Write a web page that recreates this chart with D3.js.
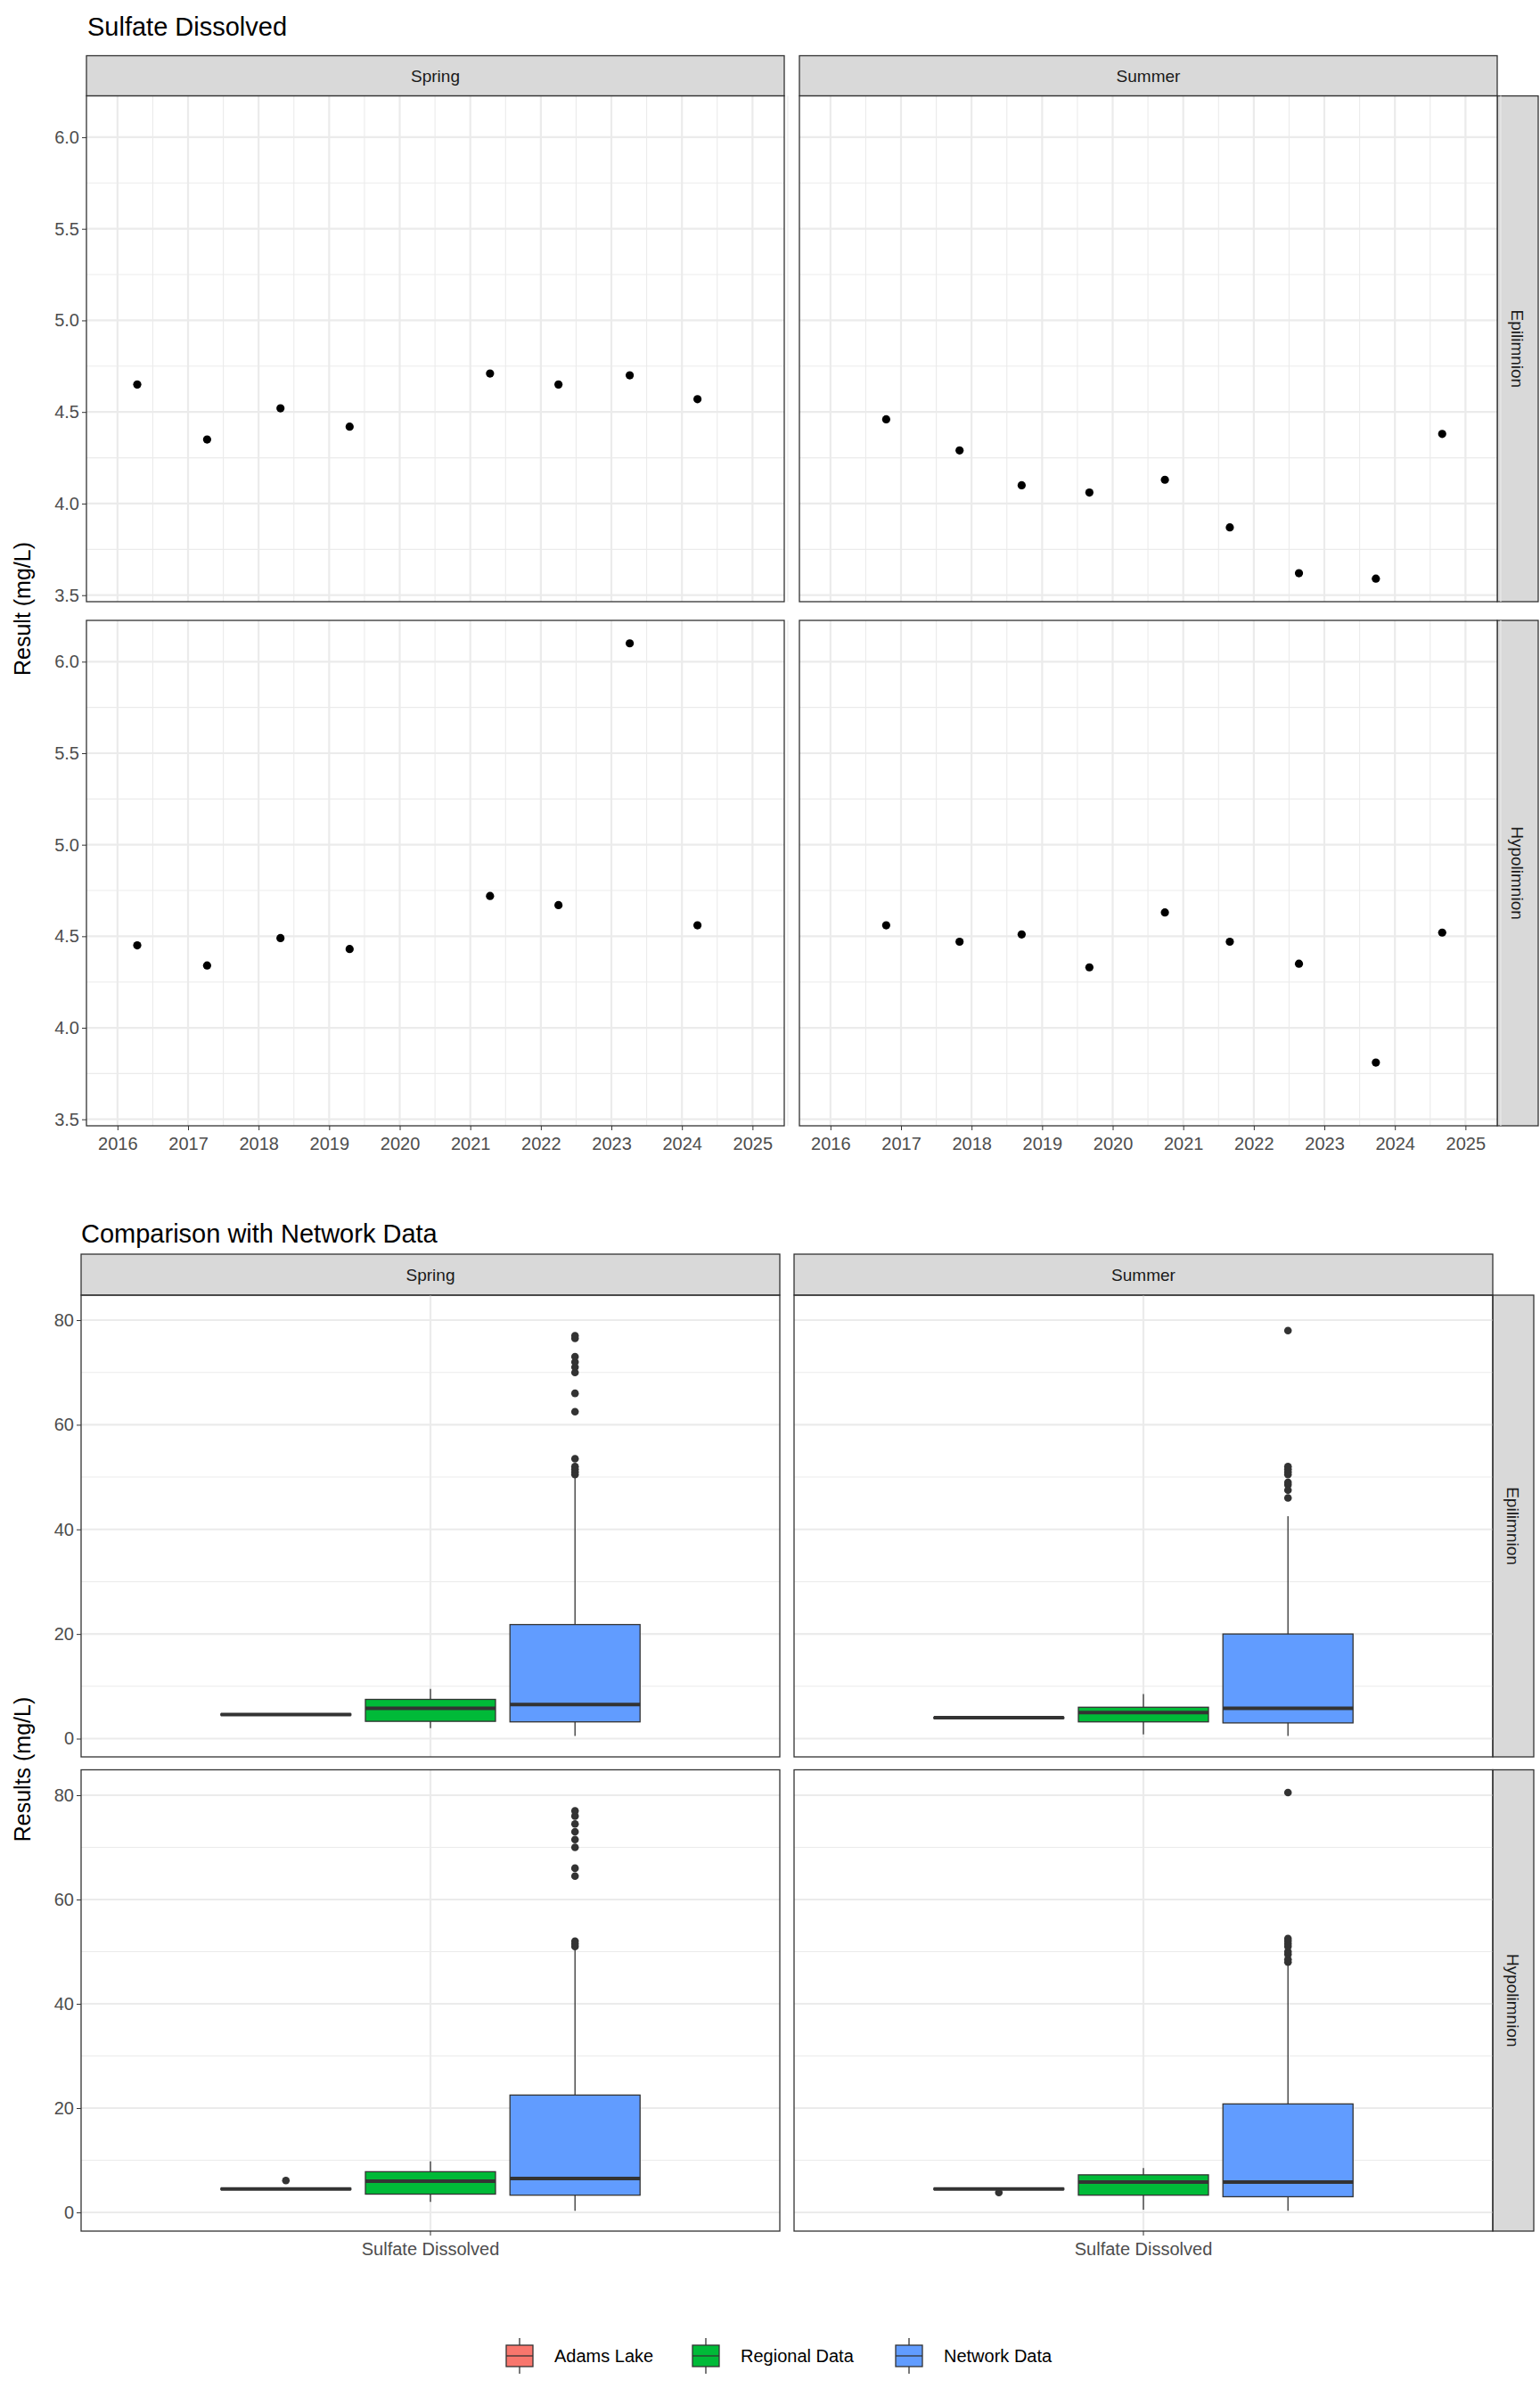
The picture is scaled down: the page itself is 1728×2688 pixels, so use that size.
<!DOCTYPE html><html><head><meta charset="utf-8">
<script src="https://cdn.jsdelivr.net/npm/d3@7"></script>
<style>body{margin:0;background:#fff}text{font-family:"Liberation Sans",Arial,sans-serif}</style></head><body>
<script>
const seasons=["Spring","Summer"], layers=["Epilimnion","Hypolimnion"];
const springEpiX=[2016.28,2017.27,2018.31,2019.29,2021.28,2022.25,2023.26,2024.22];
const springEpiY=[4.65,4.35,4.52,4.42,4.71,4.65,4.70,4.57];
const summerEpiX=[2016.79,2017.83,2018.71,2019.67,2020.74,2021.66,2022.64,2023.73,2024.67];
const summerEpiY=[4.46,4.29,4.10,4.06,4.13,3.87,3.62,3.59,4.38];
const springHypoX=[2016.28,2017.27,2018.31,2019.29,2021.28,2022.25,2023.26,2024.22];
const springHypoY=[4.45,4.34,4.49,4.43,4.72,4.67,6.10,4.56];
const summerHypoX=[2016.79,2017.83,2018.71,2019.67,2020.74,2021.66,2022.64,2023.73,2024.67];
const summerHypoY=[4.56,4.47,4.51,4.33,4.63,4.47,4.35,3.81,4.52];
const yearTicks=[2016,2017,2018,2019,2020,2021,2022,2023,2024,2025];
const topYTicks=[3.5,4.0,4.5,5.0,5.5,6.0];
const boxGroups=["Adams Lake","Regional Data","Network Data"];
const boxColors=["#F8766D","#00BA38","#619CFF"];
// [lowWhisker,q1,median,q3,highWhisker]
const springEpiBox=[[4.5,4.5,4.6,4.7,4.7],[2,3.3,5.8,7.5,9.5],[0.5,3.2,6.5,21.8,50]];
const springEpiOut=[[],[],[50.5,51,51.5,52,53.5,62.5,66,70,71,72,73,76.5,77]];
const summerEpiBox=[[3.9,3.95,4.0,4.05,4.1],[0.8,3.2,5.0,6.0,8.5],[0.5,3.0,5.8,20,42.5]];
const summerEpiOut=[[],[],[46,47.5,48.5,49,50.5,51,51.5,52,78]];
const springHypoBox=[[4.3,4.4,4.5,4.6,4.7],[2,3.5,6.0,7.8,9.8],[0.3,3.3,6.5,22.5,50.5]];
const springHypoOut=[[6.1],[],[51,51.5,52,64.5,66,70,71.5,73,74.5,76,77]];
const summerHypoBox=[[4.3,4.4,4.5,4.6,4.6],[0.5,3.3,5.8,7.2,8.5],[0.3,3.0,5.8,20.8,47.5]];
const summerHypoOut=[[3.81],[],[48,48.5,49.5,50,51,51.5,52,52.5,80.5]];
const bottomYTicks=[0,20,40,60,80];

const svg=d3.select("body").append("svg").attr("width",1728).attr("height",2688);
const grey="#4d4d4d";
function strip(x,y,w,h,label,vertical){
  svg.append("rect").attr("x",x).attr("y",y).attr("width",w).attr("height",h).attr("fill","#d9d9d9").attr("stroke","#333").attr("stroke-width",1.3);
  const t=svg.append("text").attr("font-size",19).attr("fill","#1a1a1a").attr("text-anchor","middle").text(label);
  if(vertical) t.attr("transform",`translate(${x+w/2-7},${y+h/2}) rotate(90)`);
  else t.attr("x",x+w/2).attr("y",y+h/2+7);
}
// ---------- TOP ----------
const tPanX=[97,897], tW=783, tRowY=[[107.6,675],[696,1263]];
const topData=[[[springEpiX,springEpiY],[summerEpiX,summerEpiY]],[[springHypoX,springHypoY],[summerHypoX,summerHypoY]]];
svg.append("text").attr("x",98).attr("y",40).attr("font-size",29).text("Sulfate Dissolved");
seasons.forEach((s,c)=>strip(tPanX[c],62.5,tW,45,s,false));
layers.forEach((l,r)=>strip(1680,tRowY[r][0],46,tRowY[r][1]-tRowY[r][0],l,true));
for(let r=0;r<2;r++)for(let c=0;c<2;c++){
  const x0=tPanX[c],y0=tRowY[r][0],y1=tRowY[r][1];
  const xs=d3.scaleLinear().domain([2015.56,2025.45]).range([x0,x0+tW]);
  const ys=d3.scaleLinear().domain([3.4645,6.2255]).range([y1,y0]);
  const g=svg.append("g");
  g.append("rect").attr("x",x0).attr("y",y0).attr("width",tW).attr("height",y1-y0).attr("fill","#fff");
  d3.range(2015.5,2025.6,1).forEach(v=>{if(xs(v)>x0)g.append("line").attr("x1",xs(v)).attr("x2",xs(v)).attr("y1",y0).attr("y2",y1).attr("stroke","#ebebeb").attr("stroke-width",1.1);});
  [3.75,4.25,4.75,5.25,5.75].forEach(v=>g.append("line").attr("x1",x0).attr("x2",x0+tW).attr("y1",ys(v)).attr("y2",ys(v)).attr("stroke","#ebebeb").attr("stroke-width",1.1));
  yearTicks.forEach(v=>g.append("line").attr("x1",xs(v)).attr("x2",xs(v)).attr("y1",y0).attr("y2",y1).attr("stroke","#ebebeb").attr("stroke-width",2.2));
  topYTicks.forEach(v=>g.append("line").attr("x1",x0).attr("x2",x0+tW).attr("y1",ys(v)).attr("y2",ys(v)).attr("stroke","#ebebeb").attr("stroke-width",2.2));
  const [X,Y]=topData[r][c];
  X.forEach((xv,i)=>g.append("circle").attr("cx",xs(xv)).attr("cy",ys(Y[i])).attr("r",4.6).attr("fill","#000"));
  g.append("rect").attr("x",x0).attr("y",y0).attr("width",tW).attr("height",y1-y0).attr("fill","none").attr("stroke","#333").attr("stroke-width",1.3);
  if(c===0){const ax=svg.append("g").attr("transform",`translate(${x0},0)`).call(d3.axisLeft(ys).tickValues(topYTicks).tickFormat(d3.format(".1f")).tickSizeOuter(0).tickSize(5));
    ax.select(".domain").remove();ax.selectAll("line").attr("stroke","#333");ax.selectAll("text").attr("font-size",20).attr("fill",grey).attr("font-family","Liberation Sans,Arial");}
  if(r===1){const ax=svg.append("g").attr("transform",`translate(0,${y1})`).call(d3.axisBottom(xs).tickValues(yearTicks).tickFormat(d3.format("d")).tickSizeOuter(0).tickSize(5));
    ax.select(".domain").remove();ax.selectAll("line").attr("stroke","#333");ax.selectAll("text").attr("font-size",20).attr("fill",grey).attr("font-family","Liberation Sans,Arial").attr("dy","0.95em");}
}
svg.append("text").attr("transform","translate(34,683) rotate(-90)").attr("text-anchor","middle").attr("font-size",25).text("Result (mg/L)");
// ---------- BOTTOM ----------
const bPanX=[91,891], bW=784, bRowY=[[1453,1971],[1985.5,2503]];
const bData=[[[springEpiBox,springEpiOut],[summerEpiBox,summerEpiOut]],[[springHypoBox,springHypoOut],[summerHypoBox,summerHypoOut]]];
svg.append("text").attr("x",91).attr("y",1394).attr("font-size",29).text("Comparison with Network Data");
seasons.forEach((s,c)=>strip(bPanX[c],1407,bW,46,s,false));
layers.forEach((l,r)=>strip(1675,bRowY[r][0],46,bRowY[r][1]-bRowY[r][0],l,true));
for(let r=0;r<2;r++)for(let c=0;c<2;c++){
  const x0=bPanX[c],y0=bRowY[r][0],y1=bRowY[r][1];
  const xs=d3.scaleBand().domain(["Sulfate Dissolved"]).range([x0,x0+bW]).paddingInner(0).paddingOuter(0.25);
  const xc=xs("Sulfate Dissolved")+xs.bandwidth()/2;
  const gx=d3.scaleBand().domain(boxGroups).range([xc-bW*0.3,xc+bW*0.3]).paddingInner(0.1);
  const ys=d3.scaleLinear().domain([-4.0,84.8]).range([y1,y0]);
  const ys2=d3.scaleLinear().domain([0,80]).range([r===0?1950.5:2482,r===0?1481:2014]);
  const g=svg.append("g");
  [10,30,50,70].forEach(v=>g.append("line").attr("x1",x0).attr("x2",x0+bW).attr("y1",ys2(v)).attr("y2",ys2(v)).attr("stroke","#ebebeb").attr("stroke-width",1.1));
  bottomYTicks.forEach(v=>g.append("line").attr("x1",x0).attr("x2",x0+bW).attr("y1",ys2(v)).attr("y2",ys2(v)).attr("stroke","#ebebeb").attr("stroke-width",2.2));
  g.append("line").attr("x1",xc).attr("x2",xc).attr("y1",y0).attr("y2",y1).attr("stroke","#ebebeb").attr("stroke-width",2.2);
  const [B,O]=bData[r][c];
  boxGroups.forEach((grp,i)=>{
    const bx=gx(grp),bw=gx.bandwidth(),m=bx+bw/2,[lo,q1,md,q3,hi]=B[i];
    g.append("line").attr("x1",m).attr("x2",m).attr("y1",ys2(lo)).attr("y2",ys2(hi)).attr("stroke","#333").attr("stroke-width",1.3);
    g.append("rect").attr("x",bx).attr("y",ys2(q3)).attr("width",bw).attr("height",Math.max(ys2(q1)-ys2(q3),1)).attr("fill",boxColors[i]).attr("stroke","#333").attr("stroke-width",1.3);
    g.append("line").attr("x1",bx).attr("x2",bx+bw).attr("y1",ys2(md)).attr("y2",ys2(md)).attr("stroke","#333").attr("stroke-width",4);
    O[i].forEach(v=>g.append("circle").attr("cx",m).attr("cy",ys2(v)).attr("r",4.3).attr("fill","#333"));
  });
  g.append("rect").attr("x",x0).attr("y",y0).attr("width",bW).attr("height",y1-y0).attr("fill","none").attr("stroke","#333").attr("stroke-width",1.3);
  if(c===0){const ax=svg.append("g").attr("transform",`translate(${x0},0)`).call(d3.axisLeft(ys2).tickValues(bottomYTicks).tickSizeOuter(0).tickSize(5));
    ax.select(".domain").remove();ax.selectAll("line").attr("stroke","#333");ax.selectAll("text").attr("font-size",20).attr("fill",grey).attr("font-family","Liberation Sans,Arial");}
  if(r===1){const ax=svg.append("g").attr("transform",`translate(0,${y1})`).call(d3.axisBottom(xs).tickSizeOuter(0).tickSize(5));
    ax.select(".domain").remove();ax.selectAll("line").attr("stroke","#333");ax.selectAll("text").attr("font-size",20).attr("fill",grey).attr("font-family","Liberation Sans,Arial").attr("dy","0.95em");}
}
svg.append("text").attr("transform","translate(34,1985) rotate(-90)").attr("text-anchor","middle").attr("font-size",25).text("Results (mg/L)");
// legend
const legX=[566,775,1003];
boxGroups.forEach((grp,i)=>{
  const x=legX[i],y=2643;
  svg.append("line").attr("x1",x+17).attr("x2",x+17).attr("y1",y-20).attr("y2",y+20).attr("stroke","#333").attr("stroke-width",1.3);
  svg.append("rect").attr("x",x+2).attr("y",y-12).attr("width",30).attr("height",24).attr("fill",boxColors[i]).attr("stroke","#333").attr("stroke-width",1.3);
  svg.append("line").attr("x1",x+2).attr("x2",x+32).attr("y1",y).attr("y2",y).attr("stroke","#333").attr("stroke-width",1.3);
  svg.append("text").attr("x",x+56).attr("y",y+7).attr("font-size",20).text(grp);
});
</script></body></html>
